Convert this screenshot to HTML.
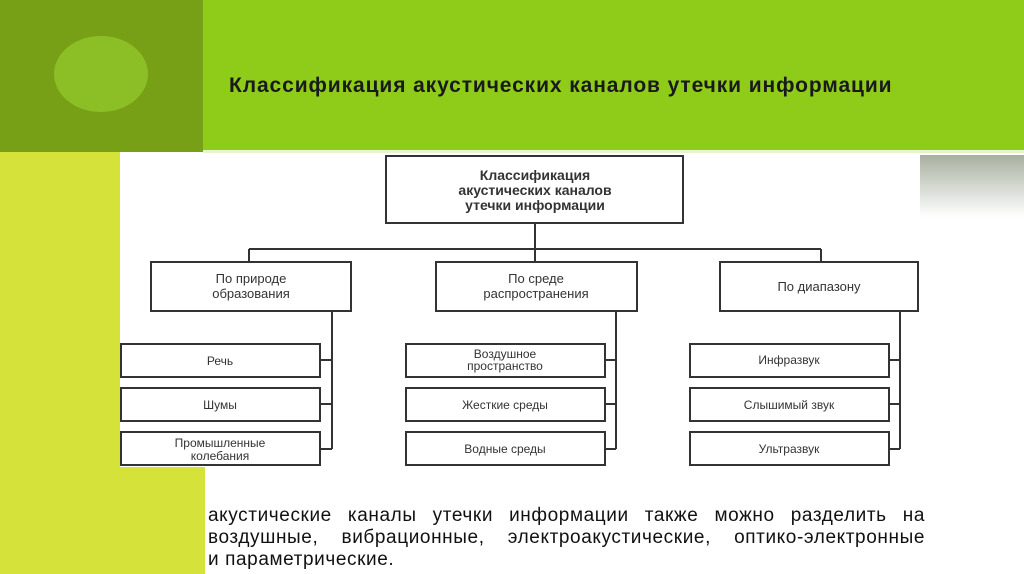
<!DOCTYPE html>
<html><head><meta charset="utf-8"><style>
html,body{margin:0;padding:0;width:1024px;height:574px;overflow:hidden;background:#fff;position:relative;font-family:"Liberation Sans",sans-serif}
.a{position:absolute}
.l{position:absolute;left:208px;width:717px;font-size:19px;letter-spacing:0.6px;line-height:22px;color:#111;white-space:nowrap}
.j{text-align:justify;text-align-last:justify}
</style></head><body>
<div class="a" style="left:0;top:0;width:203px;height:152px;background:#77a016"></div>
<div class="a" style="left:203px;top:0;width:821px;height:150px;background:#8fcc1a"></div>
<div class="a" style="left:203px;top:150px;width:821px;height:3px;background:#e8f3d0"></div>
<div class="a" style="left:54px;top:36px;width:94px;height:76px;border-radius:50%;background:#8cbf26"></div>
<div class="a" style="left:0;top:152px;width:120px;height:315px;background:#d4e23a"></div>
<div class="a" style="left:0;top:467px;width:205px;height:107px;background:#d4e23a"></div>
<div class="a" style="left:920px;top:155px;width:104px;height:62px;background:linear-gradient(#a8b0a0,#fff)"></div>
<div class="a" style="left:229px;top:74px;font-size:21px;font-weight:bold;color:#1a1a1a;white-space:nowrap;letter-spacing:0.9px">Классификация акустических каналов утечки информации</div>
<svg class="a" style="left:0;top:0" width="1024" height="574">
<g fill="none" stroke="#333" stroke-width="2">
<rect x="386" y="156" width="297" height="67"/>
<line x1="535" y1="223" x2="535" y2="262"/>
<line x1="249" y1="249" x2="821" y2="249"/>
<line x1="249" y1="249" x2="249" y2="262"/>
<line x1="821" y1="249" x2="821" y2="262"/>
<rect x="151" y="262" width="200" height="49"/>
<rect x="436" y="262" width="201" height="49"/>
<rect x="720" y="262" width="198" height="49"/>
<line x1="332" y1="311" x2="332" y2="449"/>
<line x1="616" y1="311" x2="616" y2="449"/>
<line x1="900" y1="311" x2="900" y2="449"/>
<rect x="121" y="344" width="199" height="33"/>
<rect x="121" y="388" width="199" height="33"/>
<rect x="121" y="432" width="199" height="33"/>
<rect x="406" y="344" width="199" height="33"/>
<rect x="406" y="388" width="199" height="33"/>
<rect x="406" y="432" width="199" height="33"/>
<rect x="690" y="344" width="199" height="33"/>
<rect x="690" y="388" width="199" height="33"/>
<rect x="690" y="432" width="199" height="33"/>
<path d="M320 360H332M320 404H332M320 449H332M605 360H616M605 404H616M605 449H616M889 360H900M889 404H900M889 449H900"/>
</g>
<g font-family="Liberation Sans,sans-serif" fill="#333" text-anchor="middle" font-size="13">
<text x="535" y="180" font-weight="bold" font-size="14">Классификация</text>
<text x="535" y="195" font-weight="bold" font-size="14">акустических каналов</text>
<text x="535" y="210" font-weight="bold" font-size="14">утечки информации</text>
<text x="251" y="283">По природе</text><text x="251" y="298">образования</text>
<text x="536" y="283">По среде</text><text x="536" y="298">распространения</text>
<text x="819" y="291">По диапазону</text>
<g font-size="12">
<text x="220" y="365">Речь</text><text x="220" y="409">Шумы</text>
<text x="220" y="447">Промышленные</text><text x="220" y="460">колебания</text>
<text x="505" y="358">Воздушное</text><text x="505" y="370">пространство</text>
<text x="505" y="409">Жесткие среды</text><text x="505" y="453">Водные среды</text>
<text x="789" y="364">Инфразвук</text><text x="789" y="409">Слышимый звук</text><text x="789" y="453">Ультразвук</text>
</g></g>
</svg>
<div class="l j" style="top:505px">акустические каналы утечки информации также можно разделить на</div>
<div class="l j" style="top:527px">воздушные, вибрационные, электроакустические, оптико-электронные</div>
<div class="l" style="top:549px">и параметрические.</div>
</body></html>
